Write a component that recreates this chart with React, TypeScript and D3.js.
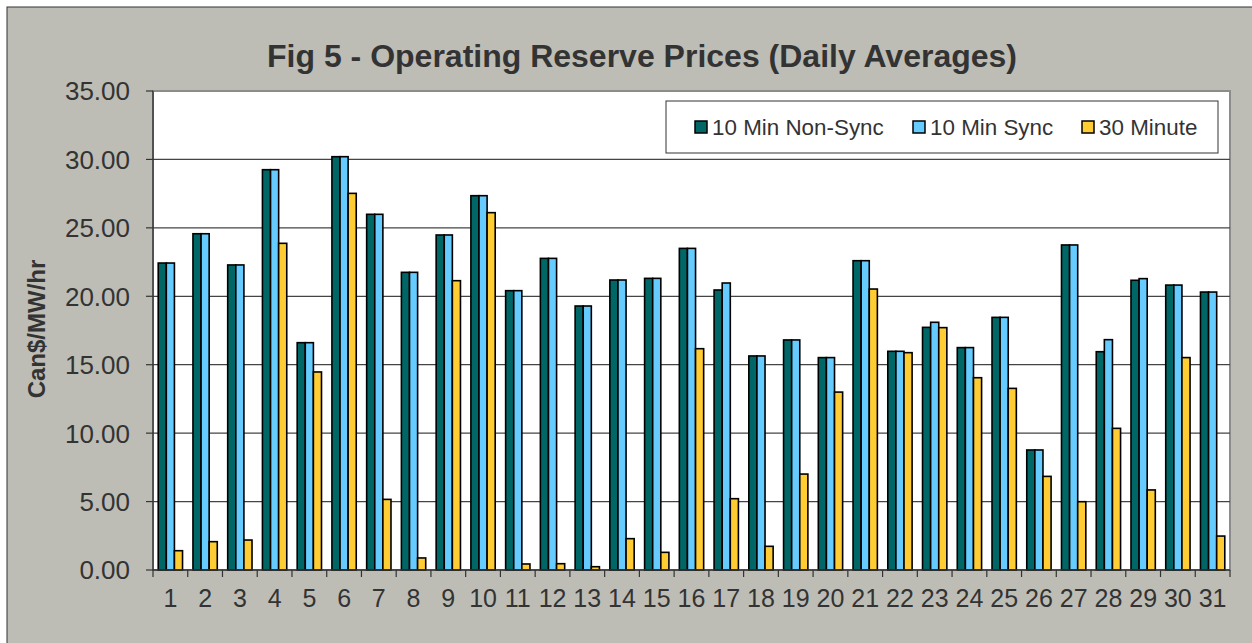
import React from "react";
import * as d3 from "d3";

const days = Array.from({ length: 31 }, (_, i) => String(i + 1));
const nonSync = [22.43, 24.57, 22.29, 29.25, 16.61, 30.2, 25.99, 21.75, 24.48, 27.35, 20.41, 22.77, 19.29, 21.19, 21.31, 23.5, 20.46, 15.64, 16.81, 15.52, 22.6, 15.98, 17.73, 16.25, 18.46, 8.77, 23.75, 15.95, 21.17, 20.82, 20.31];
const sync = [22.43, 24.57, 22.29, 29.25, 16.61, 30.2, 25.99, 21.75, 24.48, 27.35, 20.41, 22.77, 19.29, 21.19, 21.31, 23.5, 20.97, 15.64, 16.81, 15.52, 22.6, 15.98, 18.1, 16.25, 18.46, 8.77, 23.75, 16.83, 21.29, 20.82, 20.31];
const thirty = [1.41, 2.07, 2.19, 23.87, 14.47, 27.52, 5.16, 0.88, 21.14, 26.11, 0.44, 0.46, 0.24, 2.29, 1.29, 16.17, 5.21, 1.73, 7.01, 13.0, 20.53, 15.88, 17.71, 14.05, 13.27, 6.84, 4.99, 10.35, 5.85, 15.52, 2.48];
const seriesNames = ["10 Min Non-Sync", "10 Min Sync", "30 Minute"];
const seriesColors = ["#006666", "#66CCFF", "#FFCC33"];
const yTicks = [0, 5, 10, 15, 20, 25, 30, 35];

export default function App() {
  const W = 1252, H = 643;
  const left = 153, right = 1230, top = 91, bottom = 570;
  const series = [nonSync, sync, thirty];
  const x = d3.scaleBand<string>().domain(days).range([left, right]).paddingInner(0.3).paddingOuter(0.15);
  const x1 = d3.scaleBand<number>().domain([0, 1, 2]).range([0, x.bandwidth()]).padding(0);
  const y = d3.scaleLinear().domain([0, 35]).range([bottom, top]);
  const step = x.step();
  const font = "Liberation Sans, Arial, sans-serif";
  const legendX = [695, 913, 1082];
  return (
    <svg width={W} height={H} style={{ position: "absolute", left: 0, top: 0 }} fontFamily={font}>
      <rect x={0} y={0} width={W} height={H} fill="#ffffff" />
      <rect x={7} y={7} width={W + 20} height={H + 20} fill="#BDBDB5" stroke="#333" strokeWidth={1} />
      <text x={642} y={67} textAnchor="middle" fontSize={32} fontWeight="bold" fill="#333">
        Fig 5 - Operating Reserve Prices (Daily Averages)
      </text>
      <rect x={left} y={top} width={right - left} height={bottom - top} fill="#fff" stroke="#8c8c8c" strokeWidth={2} />
      {yTicks.slice(1, -1).map((t) => (
        <line key={t} x1={left} x2={right} y1={y(t)} y2={y(t)} stroke="#444" strokeWidth={1.2} />
      ))}
      {series.map((vals, si) =>
        vals.map((v, i) => (
          <rect
            key={si + "-" + i}
            x={(x(days[i]) as number) + (x1(si) as number)}
            y={y(v)}
            width={x1.bandwidth()}
            height={bottom - y(v)}
            fill={seriesColors[si]}
            stroke="#000"
            strokeWidth={1.6}
          />
        ))
      )}
      <line x1={left} x2={left} y1={top} y2={bottom} stroke="#333" strokeWidth={1.3} />
      <line x1={left} x2={right} y1={bottom} y2={bottom} stroke="#333" strokeWidth={1.3} />
      {yTicks.map((t) => (
        <g key={t}>
          <line x1={left - 7} x2={left} y1={y(t)} y2={y(t)} stroke="#333" strokeWidth={1.2} />
          <text x={130} y={y(t)} dy="0.36em" textAnchor="end" fontSize={26} fill="#333">
            {t.toFixed(2)}
          </text>
        </g>
      ))}
      {d3.range(days.length + 1).map((i) => (
        <line key={i} x1={left + i * step} x2={left + i * step} y1={bottom} y2={bottom + 7} stroke="#333" strokeWidth={1.2} />
      ))}
      {days.map((d) => (
        <text key={d} x={(x(d) as number) + x.bandwidth() / 2} y={607} textAnchor="middle" fontSize={25} fill="#333">
          {d}
        </text>
      ))}
      <text transform="translate(45,329) rotate(-90)" textAnchor="middle" fontSize={24} fontWeight="bold" fill="#333">
        Can$/MW/hr
      </text>
      <rect x={666} y={101} width={552} height={52} fill="#fff" stroke="#333" strokeWidth={1} />
      {seriesNames.map((n, i) => (
        <g key={n}>
          <rect x={legendX[i]} y={121} width={12} height={12} fill={seriesColors[i]} stroke="#000" strokeWidth={1.5} />
          <text x={legendX[i] + 17} y={135} fontSize={22.4} fill="#333">
            {n}
          </text>
        </g>
      ))}
    </svg>
  );
}
